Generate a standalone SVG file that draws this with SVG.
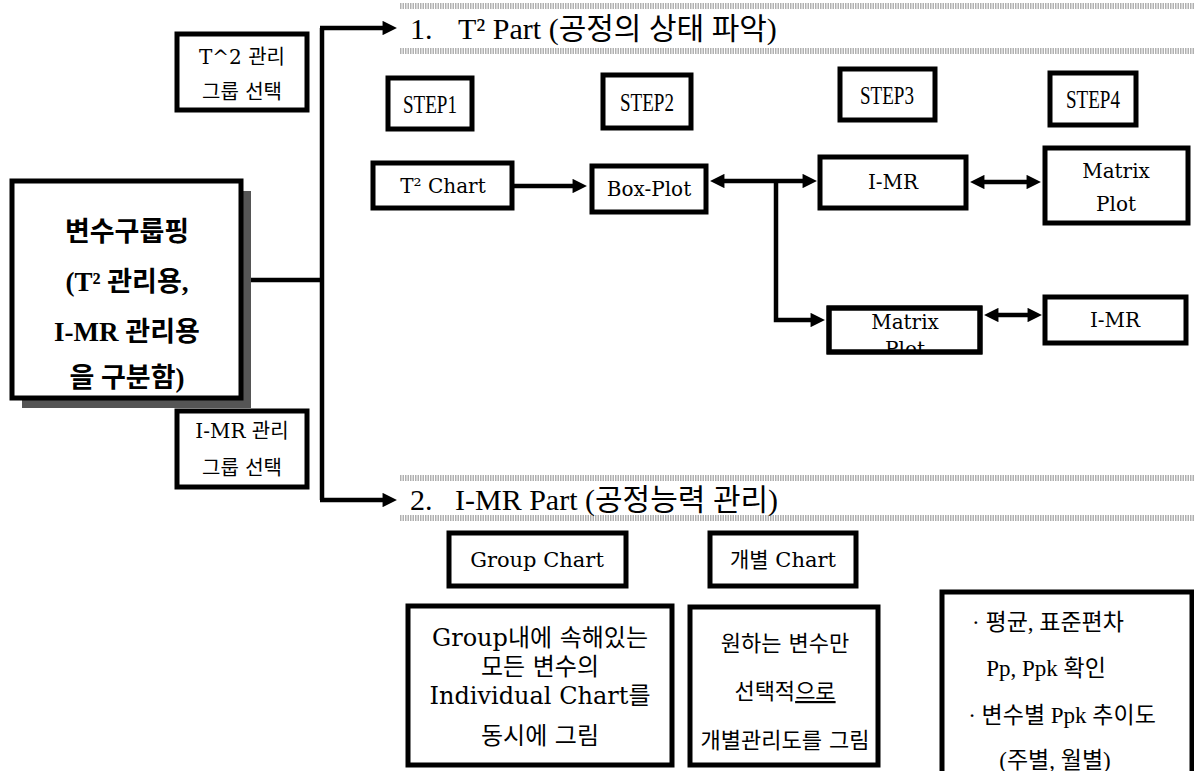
<svg xmlns="http://www.w3.org/2000/svg" width="1194" height="771" viewBox="0 0 1194 771">
<style>
.box{fill:#fff;stroke:#000;stroke-width:5}
.conn{fill:none;stroke:#000;stroke-width:4.5}
.band{stroke:#b0b0b0;stroke-width:6;stroke-dasharray:1.5 1}
text{font-family:"DejaVu Serif","Noto Sans CJK KR",serif;fill:#000;text-anchor:middle}
.sel{font-size:20px}
.step{font-family:"Liberation Serif",serif;font-size:25px}
.flow{font-size:20px}
.lbl{font-size:21px}
.d1{font-size:24px}
.d2{font-size:22px}
.d3{font-family:"Liberation Serif","Noto Sans CJK KR",serif;font-size:23px}
.big{font-family:"Liberation Serif","Noto Sans CJK KR",serif;font-size:27px;font-weight:bold}
.title{font-family:"Liberation Serif","Noto Sans CJK KR",serif;font-size:30px;text-anchor:start}
</style>
<defs>
<marker id="ah" viewBox="0 0 10 10" refX="1" refY="5" markerWidth="3.6" markerHeight="3.2" orient="auto-start-reverse" markerUnits="strokeWidth">
<path d="M0,0 L10,5 L0,10 z" fill="#000"/>
</marker>
<clipPath id="clipMP2"><rect x="829" y="308" width="151" height="44"/></clipPath>
</defs>
<rect width="1194" height="771" fill="#fff"/>

<g id="bands">
<line class="band" x1="400" y1="6" x2="1194" y2="6"/>
<line class="band" x1="400" y1="51" x2="1194" y2="51"/>
<line class="band" x1="400" y1="478" x2="1194" y2="478"/>
<line class="band" x1="400" y1="518" x2="1194" y2="518"/>
</g>

<g id="connectors">
<path class="conn" d="M251,280 H322"/>
<path class="conn" d="M322,28 V500"/>
<path class="conn" d="M320,28 H384" marker-end="url(#ah)"/>
<path class="conn" d="M320,500 H384" marker-end="url(#ah)"/>
<path class="conn" d="M514,186 H574" marker-end="url(#ah)"/>
<path class="conn" d="M723,181 H804" marker-start="url(#ah)" marker-end="url(#ah)"/>
<path class="conn" d="M776,181 V320 H812" marker-end="url(#ah)"/>
<path class="conn" d="M983,182 H1028" marker-start="url(#ah)" marker-end="url(#ah)"/>
<path class="conn" d="M997,315 H1029" marker-start="url(#ah)" marker-end="url(#ah)"/>
</g>

<g id="title1">
<text class="title" y="39"><tspan x="410">1.</tspan><tspan x="458">T² Part (공정의 상태 파악)</tspan></text>
</g>
<g id="title2">
<text class="title" y="510"><tspan x="410">2.</tspan><tspan x="455">I-MR Part (공정능력 관리)</tspan></text>
</g>

<g id="main">
<rect x="22" y="191" width="229" height="217" fill="#555"/>
<rect class="box" x="12" y="181" width="229" height="217"/>
<text class="big" x="127" y="241">변수구룹핑</text>
<text class="big" x="127" y="291">(T² 관리용,</text>
<text class="big" x="127" y="341">I-MR 관리용</text>
<text class="big" x="127" y="387">을 구분함)</text>
</g>

<g id="selT2">
<rect class="box" x="177" y="34" width="130" height="76"/>
<text class="sel" x="242" y="64">T^2 관리</text>
<text class="sel" x="242" y="99">그룹 선택</text>
</g>
<g id="selIMR">
<rect class="box" x="177" y="411" width="130" height="76"/>
<text class="sel" x="242" y="438">I-MR 관리</text>
<text class="sel" x="242" y="475">그룹 선택</text>
</g>

<g id="step1"><rect class="box" x="388" y="78" width="84" height="51"/><text class="step" x="430" y="113" textLength="54" lengthAdjust="spacingAndGlyphs">STEP1</text></g>
<g id="step2"><rect class="box" x="603" y="75" width="88" height="53"/><text class="step" x="647" y="111" textLength="54" lengthAdjust="spacingAndGlyphs">STEP2</text></g>
<g id="step3"><rect class="box" x="840" y="69" width="95" height="51"/><text class="step" x="887" y="104" textLength="54" lengthAdjust="spacingAndGlyphs">STEP3</text></g>
<g id="step4"><rect class="box" x="1050" y="73" width="86" height="52"/><text class="step" x="1093" y="108" textLength="54" lengthAdjust="spacingAndGlyphs">STEP4</text></g>

<g id="t2chart"><rect class="box" x="373" y="163" width="139" height="45"/><text class="flow" x="443" y="193">T² Chart</text></g>
<g id="boxplot"><rect class="box" x="592" y="166" width="114" height="46"/><text class="flow" x="649" y="196">Box-Plot</text></g>
<g id="imr1"><rect class="box" x="820" y="157" width="146" height="51"/><text class="flow" x="893" y="189">I-MR</text></g>
<g id="matrix1"><rect class="box" x="1045" y="148" width="143" height="75"/><text class="flow" x="1116" y="178">Matrix</text><text class="flow" x="1116" y="211">Plot</text></g>
<g id="matrix2"><rect class="box" x="829" y="308" width="151" height="44"/><g clip-path="url(#clipMP2)"><text class="flow" x="905" y="329">Matrix</text><text class="flow" x="905" y="356">Plot</text></g><rect x="829" y="308" width="151" height="44" fill="none" stroke="#000" stroke-width="5"/></g>
<g id="imr2"><rect class="box" x="1045" y="297" width="141" height="46"/><text class="flow" x="1115" y="327">I-MR</text></g>

<g id="groupchart"><rect class="box" x="449" y="533" width="177" height="53"/><text class="lbl" x="537" y="567">Group Chart</text></g>
<g id="indivchart"><rect class="box" x="710" y="533" width="146" height="53"/><text class="lbl" x="783" y="567">개별 Chart</text></g>

<g id="desc1">
<rect class="box" x="408" y="606" width="264" height="159"/>
<text class="d1" x="540" y="646">Group내에 속해있는</text>
<text class="d1" x="540" y="675">모든 변수의</text>
<text class="d1" x="540" y="704">Individual Chart를</text>
<text class="d1" x="540" y="744">동시에 그림</text>
</g>
<g id="desc2">
<rect class="box" x="690" y="607" width="188" height="158"/>
<text class="d2" x="785" y="651">원하는 변수만</text>
<text class="d2" x="785" y="699">선택적<tspan text-decoration="underline">으로</tspan></text>
<text class="d2" x="785" y="748">개별관리도를 그림</text>
</g>
<g id="desc3">
<rect class="box" x="942" y="592" width="250" height="200"/>
<text class="d3" x="1048" y="630">· 평균, 표준편차</text>
<text class="d3" x="1046" y="676">Pp, Ppk 확인</text>
<text class="d3" x="1062" y="723">· 변수별 Ppk 추이도</text>
<text class="d3" x="1055" y="768">(주별, 월별)</text>
</g>
</svg>
